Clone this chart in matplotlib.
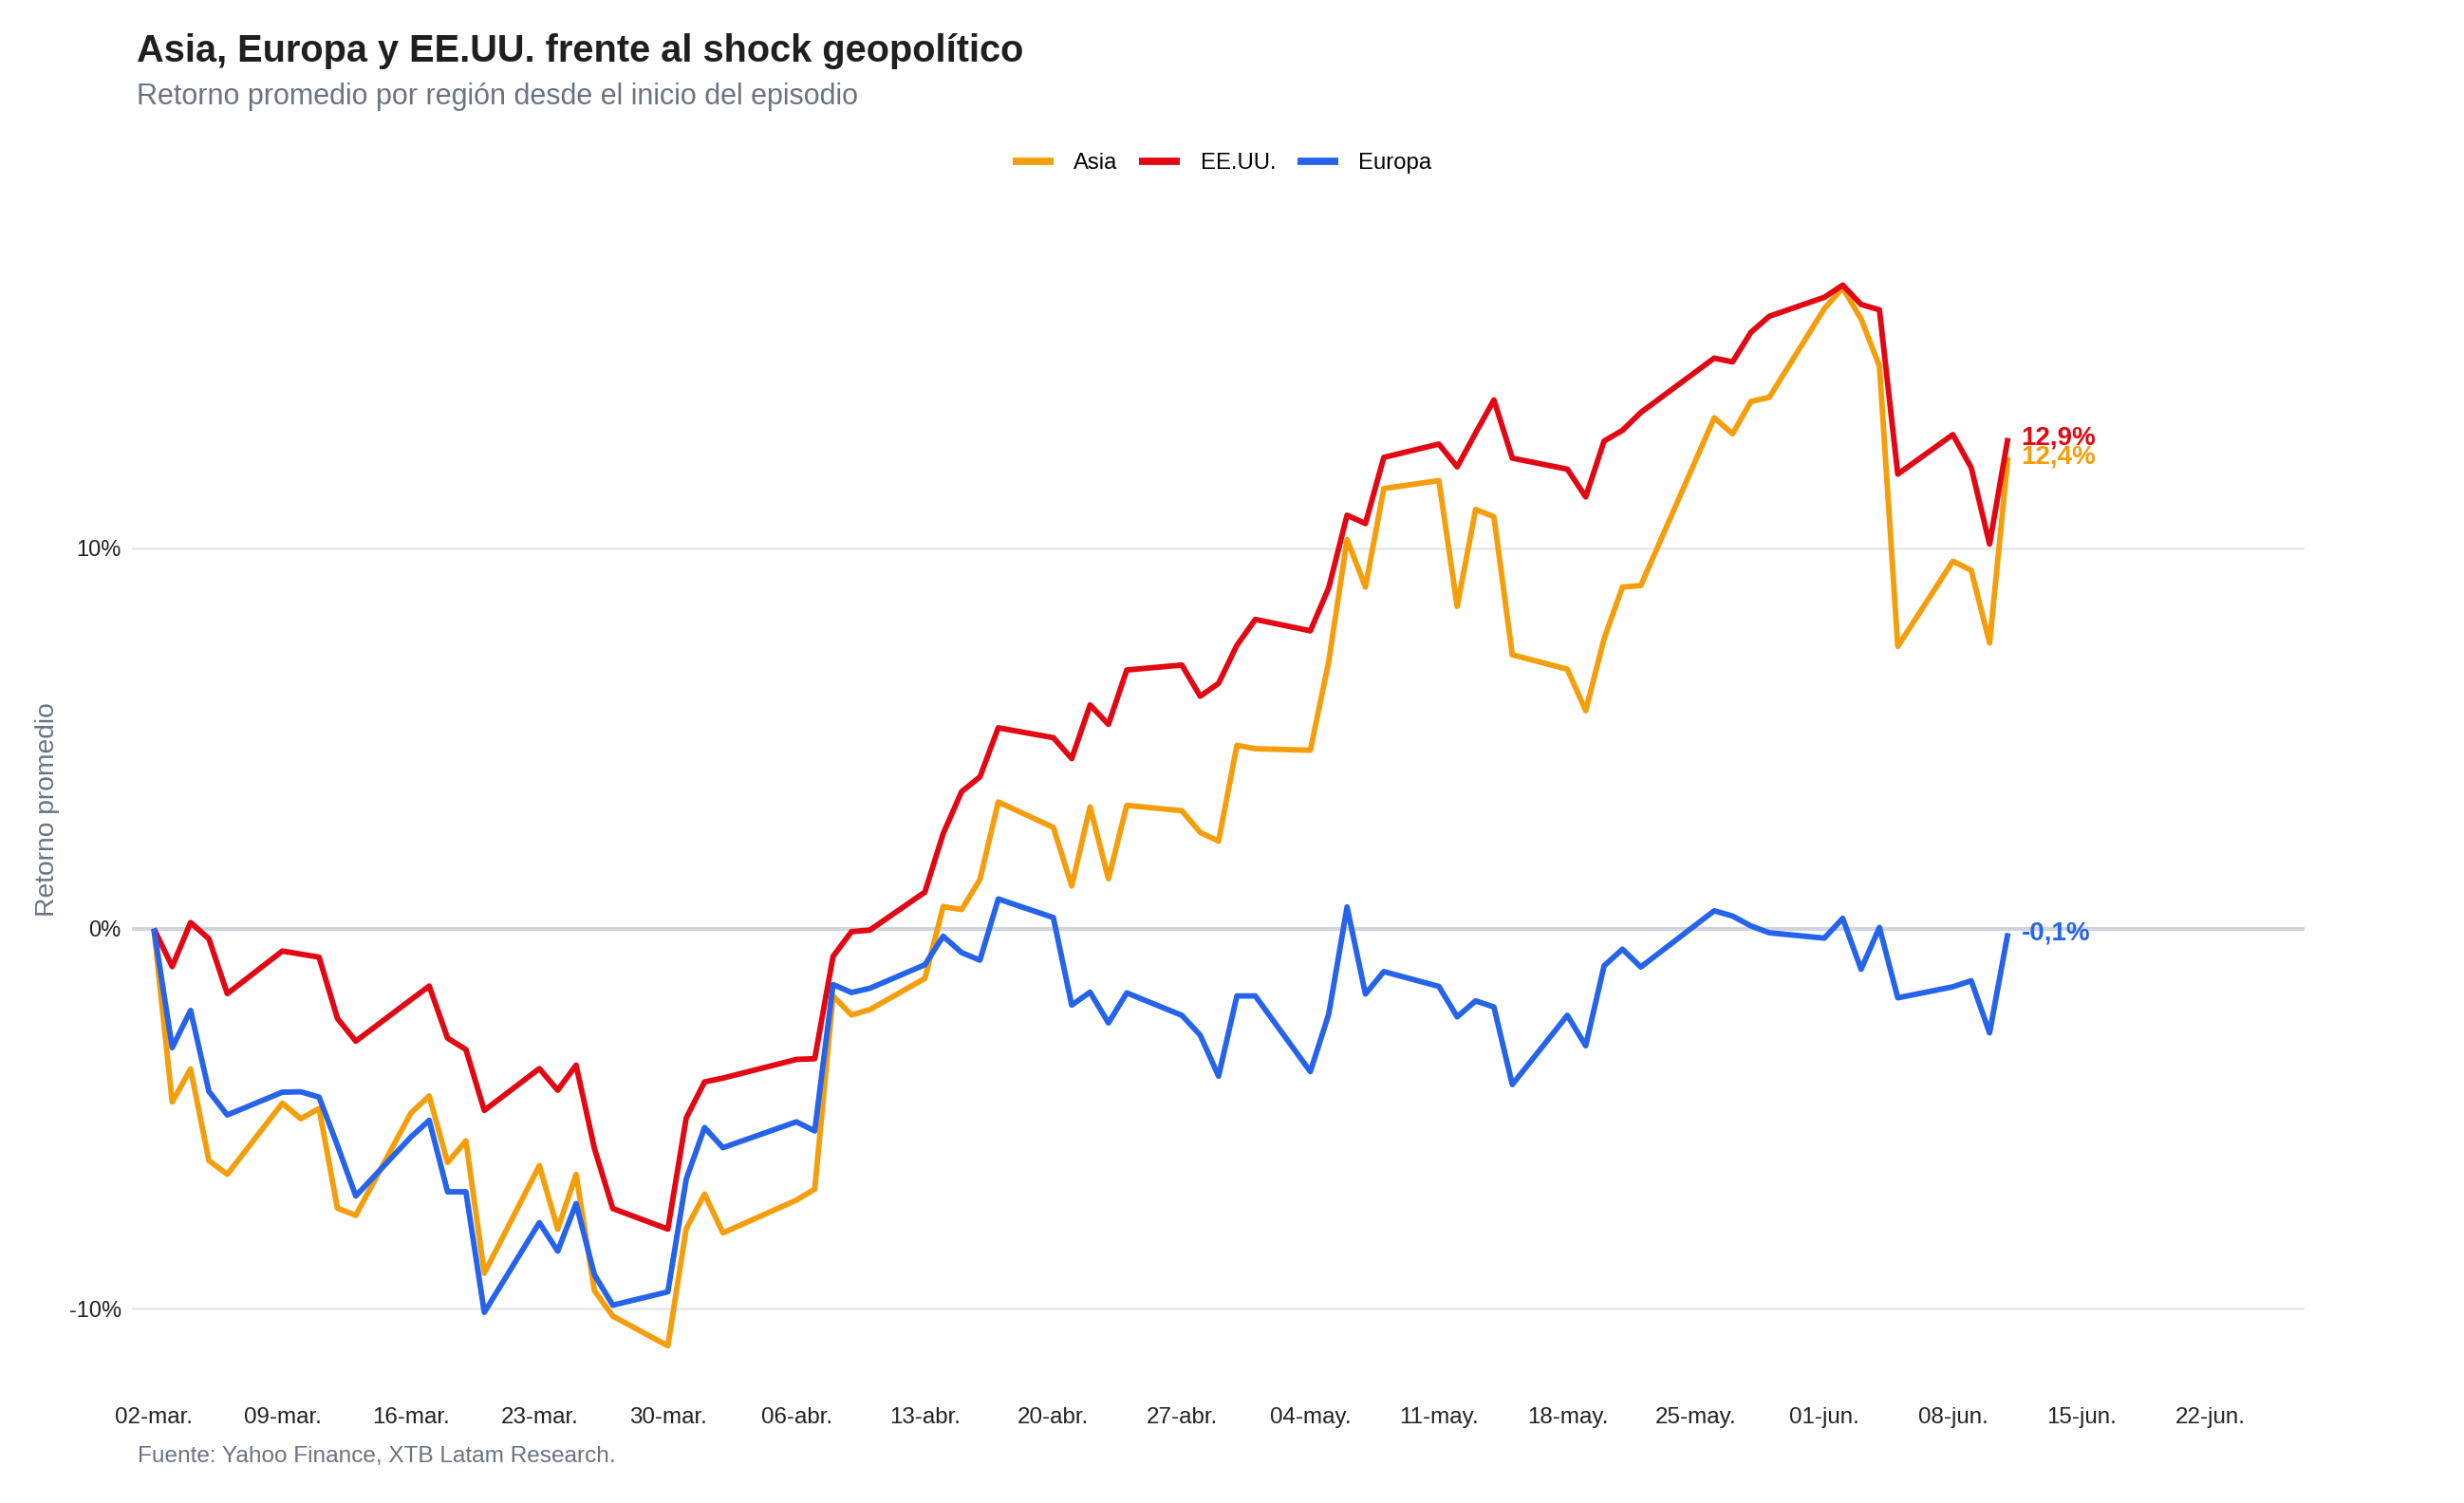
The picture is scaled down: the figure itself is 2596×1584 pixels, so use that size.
import numpy as np
import pandas as pd
import matplotlib
matplotlib.use("Agg")
import matplotlib.pyplot as plt
import matplotlib.dates as mdates

plt.rcParams["font.family"] = ["Liberation Sans", "DejaVu Sans"]

# trading days shown on the chart (2026)
dates = [
    "2026-03-02", "2026-03-03", "2026-03-04", "2026-03-05", "2026-03-06",
    "2026-03-09", "2026-03-10", "2026-03-11", "2026-03-12", "2026-03-13",
    "2026-03-16", "2026-03-17", "2026-03-18", "2026-03-19", "2026-03-20",
    "2026-03-23", "2026-03-24", "2026-03-25", "2026-03-26", "2026-03-27",
    "2026-03-30", "2026-03-31", "2026-04-01", "2026-04-02",
    "2026-04-06", "2026-04-07", "2026-04-08", "2026-04-09", "2026-04-10",
    "2026-04-13", "2026-04-14", "2026-04-15", "2026-04-16", "2026-04-17",
    "2026-04-20", "2026-04-21", "2026-04-22", "2026-04-23", "2026-04-24",
    "2026-04-27", "2026-04-28", "2026-04-29", "2026-04-30", "2026-05-01",
    "2026-05-04", "2026-05-05", "2026-05-06", "2026-05-07", "2026-05-08",
    "2026-05-11", "2026-05-12", "2026-05-13", "2026-05-14", "2026-05-15",
    "2026-05-18", "2026-05-19", "2026-05-20", "2026-05-21", "2026-05-22",
    "2026-05-26", "2026-05-27", "2026-05-28", "2026-05-29",
    "2026-06-01", "2026-06-02", "2026-06-03", "2026-06-04", "2026-06-05",
    "2026-06-08", "2026-06-09", "2026-06-10", "2026-06-11",
]

asia = [
    0.00, -4.56, -3.69, -6.10, -6.46, -4.59, -5.00, -4.73, -7.35, -7.54,
    -4.85, -4.40, -6.15, -5.58, -9.06, -6.23, -7.90, -6.46, -9.52, -10.19,
    -10.97, -7.89, -6.98, -8.00, -7.14, -6.85, -1.77, -2.27, -2.13,
    -1.31, 0.58, 0.50, 1.29, 3.33, 2.66, 1.12, 3.20, 1.31, 3.24,
    3.10, 2.53, 2.30, 4.82, 4.73, 4.69, 7.02, 10.23, 8.98, 11.57,
    11.78, 8.47, 11.02, 10.83, 7.20, 6.82, 5.73, 7.62, 8.98, 9.02,
    13.43, 13.01, 13.86, 13.97, 16.30, 16.85, 16.03, 14.79, 7.42,
    9.66, 9.42, 7.51, 12.40,
]

eeuu = [
    0.00, -1.00, 0.16, -0.27, -1.71, -0.59, -0.67, -0.75, -2.36, -2.96,
    -1.87, -1.51, -2.88, -3.18, -4.78, -3.68, -4.25, -3.59, -5.78, -7.36,
    -7.90, -4.98, -4.03, -3.93, -3.44, -3.42, -0.73, -0.08, -0.04,
    0.96, 2.50, 3.60, 3.99, 5.28, 5.02, 4.47, 5.88, 5.37, 6.80,
    6.93, 6.11, 6.45, 7.45, 8.13, 7.83, 8.96, 10.87, 10.65, 12.39,
    12.74, 12.14, 13.03, 13.90, 12.37, 12.08, 11.35, 12.82, 13.10, 13.57,
    15.00, 14.90, 15.68, 16.10, 16.60, 16.92, 16.41, 16.27, 11.95,
    12.99, 12.12, 10.11, 12.90,
]

europa = [
    0.00, -3.13, -2.15, -4.28, -4.90, -4.30, -4.29, -4.43, -5.70, -7.03,
    -5.48, -5.04, -6.92, -6.92, -10.09, -7.73, -8.48, -7.23, -9.10, -9.90,
    -9.55, -6.59, -5.23, -5.76, -5.08, -5.32, -1.47, -1.68, -1.57,
    -0.95, -0.20, -0.63, -0.83, 0.78, 0.29, -2.01, -1.67, -2.48, -1.69,
    -2.28, -2.80, -3.88, -1.77, -1.77, -3.76, -2.25, 0.57, -1.72, -1.13,
    -1.52, -2.32, -1.90, -2.06, -4.10, -2.28, -3.08, -0.98, -0.54, -1.01,
    0.47, 0.33, 0.07, -0.11, -0.25, 0.27, -1.07, 0.03, -1.82,
    -1.53, -1.37, -2.74, -0.12,
]

series_names = ["Asia", "EE.UU.", "Europa"]
series_colors = ["#F59E0B", "#E30613", "#2563EB"]
end_labels = ["12,4%", "12,9%", "-0,1%"]

tick_dates = pd.date_range("2026-03-02", "2026-06-22", freq="7D")
tick_labels = [
    "02-mar.", "09-mar.", "16-mar.", "23-mar.", "30-mar.", "06-abr.",
    "13-abr.", "20-abr.", "27-abr.", "04-may.", "11-may.", "18-may.",
    "25-may.", "01-jun.", "08-jun.", "15-jun.", "22-jun.",
]
y_ticks = [-10, 0, 10]
y_tick_labels = ["-10%", "0%", "10%"]

df = pd.DataFrame({"fecha": pd.to_datetime(dates), "Asia": asia,
                   "EE.UU.": eeuu, "Europa": europa})

fig = plt.figure(figsize=(12.98, 7.92), dpi=200)
ax = fig.add_axes([0.0535, 0.0785, 0.8818, 0.7718])

# grid
for yv in y_ticks:
    if yv == 0:
        ax.axhline(yv, color="#d1d5db", lw=1.5, zorder=0)
    else:
        ax.axhline(yv, color="#e5e7eb", lw=0.9, zorder=0)

for name, col, lab in zip(series_names, series_colors, end_labels):
    ax.plot(df["fecha"], df[name], color=col, lw=2.1, label=name,
            solid_joinstyle="round", solid_capstyle="butt", zorder=3)
    ax.annotate(lab, xy=(df["fecha"].iloc[-1], df[name].iloc[-1]),
                xytext=(5, 0), textcoords="offset points", ha="left",
                va="center", color=col, fontsize=10, fontweight="bold")

ax.set_xlim(pd.Timestamp("2026-03-02") - pd.Timedelta(days=1.2),
            pd.Timestamp("2026-03-02") + pd.Timedelta(days=117.16))
ax.set_ylim(-12.0, 18.5)
ax.set_xticks(tick_dates)
ax.set_xticklabels(tick_labels)
ax.set_yticks(y_ticks)
ax.set_yticklabels(y_tick_labels)
ax.tick_params(axis="x", length=0, pad=8.5, labelsize=8.7, labelcolor="#222222")
ax.tick_params(axis="y", length=0, pad=4, labelsize=8.5, labelcolor="#222222")
for s in ax.spines.values():
    s.set_visible(False)

fig.text(50 / 2596, 1 - 853 / 1584, "Retorno promedio", rotation=90, ha="center",
         va="center", fontsize=10.2, color="#6b7280")

fig.text(144 / 2596, 1 - 65 / 1584, "Asia, Europa y EE.UU. frente al shock geopolítico",
         ha="left", va="baseline", fontsize=14.3, fontweight="bold", color="#1f1f1f")
fig.text(144 / 2596, 1 - 110 / 1584, "Retorno promedio por región desde el inicio del episodio",
         ha="left", va="baseline", fontsize=11.0, color="#6b7280")
fig.text(145 / 2596, 1 - 1541 / 1584, "Fuente: Yahoo Finance, XTB Latam Research.",
         ha="left", va="baseline", fontsize=8.8, color="#6b7280")

leg = fig.legend(loc="center", bbox_to_anchor=(0.496, 1 - 172 / 1584), ncol=3,
                 frameon=False, fontsize=8.6, handlelength=1.8, handletextpad=0.9,
                 columnspacing=0.95)
for h in leg.get_lines():
    h.set_linewidth(2.8)

fig.savefig("out.png", dpi=200, facecolor="white")
